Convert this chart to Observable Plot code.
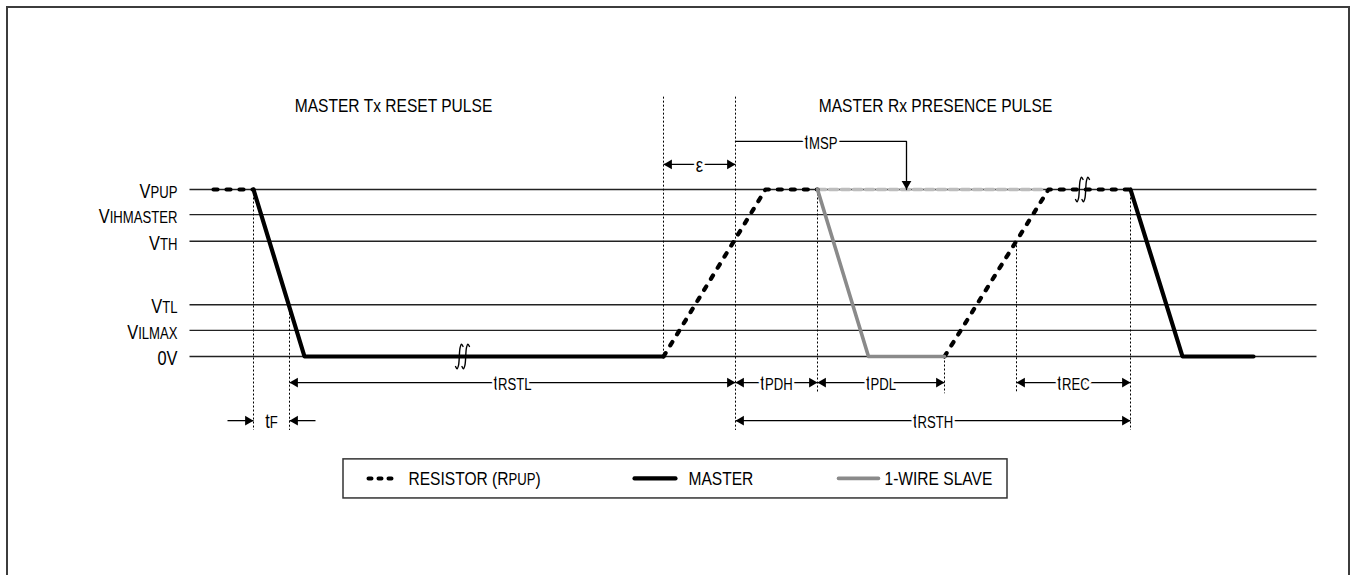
<!DOCTYPE html>
<html>
<head>
<meta charset="utf-8">
<script src="https://cdn.jsdelivr.net/npm/d3@7"></script>
<script src="https://cdn.jsdelivr.net/npm/@observablehq/plot@0.6"></script>
<style>
  html, body { margin: 0; padding: 0; background: #fff; overflow: hidden; }
  #wrap { position: relative; width: 1351px; height: 575px; }
  #frame { position: absolute; left: 6px; top: 6px; width: 1344px; height: 640px;
           border: 2px solid #3c3c3c; box-sizing: border-box; }
  #wrap svg { position: absolute; left: 0; top: 0; }
</style>
</head>
<body>
<div id="wrap"><div id="frame"></div></div>
<script>
// ---------- data (time in arbitrary units, level in arbitrary volts) ----------
const levelNames  = ["V{PUP}", "V{IHMASTER}", "V{TH}", "V{TL}", "V{ILMAX}", "0V"];
const levelVolts  = [5.0, 4.25, 3.45, 1.55, 0.78, 0.0];
const levelSpan   = [189, 1316];
const labelTime   = 177;

const titles      = ["MASTER Tx RESET PULSE", "MASTER Rx PRESENCE PULSE"];
const titleTimes  = [393, 935];
const titleVolt   = 7.5;

const resistorSegs  = [[213, 253], [663, 765, 817], [944, 1048, 1130]];
const resistorVolts = [[5, 5], [0, 5, 5], [0, 5, 5]];
const masterSegs    = [[253, 304, 663], [1130, 1182, 1253]];
const masterVolts   = [[5, 0, 0], [5, 0, 0]];
const slaveTimes    = [817, 868, 944];
const slaveVolts    = [5, 0, 0];
const heldTimes     = [817, 1043];
const heldVolts     = [5, 5];
const breakTimes    = [462, 1082];
const breakVolts    = [0, 5];

const guideTimes = [253, 289, 663, 735, 817, 944, 1016, 1130];
const guideTop   = [5, 1.55, 7.78, 7.78, 5, 0, 3.45, 5];
const guideBot   = [-2.2, -2.2, 0, -2.2, -1.1, -1.1, -1.1, -2.2];

const dimLabels = ["t{RSTL}", "t{PDH}", "t{PDL}", "t{REC}", "t{RSTH}", "ε"];
const dimFrom   = [289, 735, 817, 1016, 735, 663];
const dimTo     = [735, 817, 944, 1130, 1130, 735];
const dimVolt   = [-0.78, -0.78, -0.78, -0.78, -1.92, 5.75];

const fallLabel = "t{F}";
const fallFrom  = 253;
const fallTo    = 289;
const fallVolt  = -1.92;
const fallTail  = 26;

const mspLabel = "t{MSP}";
const mspTimes = [735, 906, 906];
const mspVolts = [6.44, 6.44, 5];

const legendLabels = ["RESISTOR (R{PUP})", "MASTER", "1-WIRE SLAVE"];
const legendSeries = ["resistor", "master", "slave"];

// ---------- layout / styles ----------
const legendBox    = {x1: 343, x2: 1007, y1: -3.08, y2: -4.25};
const legendRow    = -3.65;
const legendSwatch = [[368, 395], [634, 675], [838, 878]];
const legendText   = [408, 688, 884];

// shape of one "∫" break stroke (time offset, level offset)
const breakShapeT = [-5, -3, -1, 1, 3, 5];
const breakShapeV = [-0.30, -0.37, -0.26, 0.26, 0.37, 0.30];
const breakGap = 3.2;

const FONT = "'Liberation Sans', Arial, sans-serif";
const FS = 19, LFS = 20, SUB = 16, NARROW = 0.82;
const style = {
  resistor: {stroke: "#000", strokeWidth: 4.2, strokeDasharray: "4,9", strokeLinecap: "round", strokeLinejoin: "round"},
  master:   {stroke: "#000", strokeWidth: 4.2, strokeLinejoin: "round"},
  slave:    {stroke: "#8a8a8a", strokeWidth: 3.6, strokeLinejoin: "round"},
  held:     {stroke: "#bdbdbd", strokeWidth: 3.6, strokeDasharray: "8,4"}
};
const TIP = 5.6; // centroid-to-tip distance of arrow triangles (r = 3.6)

// ---------- build tables ----------
const levels = levelNames.map((name, i) => ({name, v: levelVolts[i]}));
const seg = (ts, vs, id) => ts.map((t, j) => ({t, v: vs[j], id}));
const resistor = resistorSegs.flatMap((ts, i) => seg(ts, resistorVolts[i], i));
const master   = masterSegs.flatMap((ts, i) => seg(ts, masterVolts[i], i));
const slave    = seg(slaveTimes, slaveVolts, 0);
const held     = seg(heldTimes, heldVolts, 0);
const breakPts = breakTimes.flatMap((bt, i) => [-1, 1].flatMap(side =>
  breakShapeT.map((dt, j) => ({t: bt + side * breakGap + dt * 0.75, v: breakVolts[i] + breakShapeV[j], id: i + "_" + side}))));
const guides   = guideTimes.map((t, i) => ({t, v1: guideTop[i], v2: guideBot[i]}));
const dims     = dimLabels.map((label, i) => ({label, a: dimFrom[i], b: dimTo[i], v: dimVolt[i]}));
const fallArrows = [{a: fallFrom - fallTail, b: fallFrom, v: fallVolt}, {a: fallTo + fallTail, b: fallTo, v: fallVolt}];
const leftHeads  = dims.map(d => ({t: d.a, v: d.v})).concat([{t: fallTo, v: fallVolt}]);
const rightHeads = dims.map(d => ({t: d.b, v: d.v})).concat([{t: fallFrom, v: fallVolt}]);
const msp = mspTimes.map((t, i) => ({t, v: mspVolts[i]}));
const legend = legendLabels.map((label, i) => ({label, s: legendSeries[i], a: legendSwatch[i][0], b: legendSwatch[i][1], tx: legendText[i], v: legendRow}));

const chart = Plot.plot({
  width: 1351, height: 575,
  marginTop: 0, marginRight: 0, marginBottom: 0, marginLeft: 0,
  x: {domain: [0, 1351], range: [0, 1351], axis: null},
  y: {domain: [0, 5], range: [356, 189], axis: null},
  style: {fontFamily: FONT, fontSize: FS + "px", background: "transparent", color: "#000"},
  marks: [
    // level lines
    Plot.link(levels, {x1: () => levelSpan[0], x2: () => levelSpan[1], y1: "v", y2: "v", stroke: "#222", strokeWidth: 1.3}),
    // dotted guides
    Plot.link(guides, {x1: "t", x2: "t", y1: "v1", y2: "v2", stroke: "#000", strokeWidth: 1, strokeDasharray: "2,2"}),
    // signals
    Plot.line(held, {x: "t", y: "v", z: "id", ...style.held}),
    Plot.line(resistor, {x: "t", y: "v", z: "id", ...style.resistor}),
    Plot.line(master, {x: "t", y: "v", z: "id", ...style.master}),
    Plot.line(slave, {x: "t", y: "v", z: "id", ...style.slave}),
    Plot.line(breakPts, {x: "t", y: "v", z: "id", curve: "catmull-rom", stroke: "#000", strokeWidth: 1.4}),
    // dimension lines
    Plot.link(dims, {x1: "a", x2: "b", y1: "v", y2: "v", stroke: "#000", strokeWidth: 1.3}),
    Plot.link(fallArrows, {x1: "a", x2: "b", y1: "v", y2: "v", stroke: "#000", strokeWidth: 1.3}),
    Plot.line(msp, {x: "t", y: "v", stroke: "#000", strokeWidth: 1.3}),
    Plot.dot(leftHeads, {x: "t", y: "v", symbol: "triangle", r: 3.6, rotate: -90, dx: TIP, fill: "#000", stroke: "none"}),
    Plot.dot(rightHeads, {x: "t", y: "v", symbol: "triangle", r: 3.6, rotate: 90, dx: -TIP, fill: "#000", stroke: "none"}),
    Plot.dot([msp[msp.length - 1]], {x: "t", y: "v", symbol: "triangle", r: 3.6, rotate: 180, dy: -TIP, fill: "#000", stroke: "none"}),
    Plot.text(dims, {x: d => (d.a + d.b) / 2, y: "v", text: "label", fontSize: LFS, fill: "#000", stroke: "#fff", strokeWidth: 6, dy: 1}),
    Plot.text([{label: fallLabel, t: (fallFrom + fallTo) / 2, v: fallVolt}], {x: "t", y: "v", text: "label", fontSize: LFS, fill: "#000", dy: 1}),
    Plot.text([{label: mspLabel, t: (mspTimes[0] + mspTimes[1]) / 2, v: mspVolts[0]}], {x: "t", y: "v", text: "label", fontSize: LFS, fill: "#000", stroke: "#fff", strokeWidth: 6, dy: 1}),
    // level labels and titles
    Plot.text(levels, {x: () => labelTime, y: "v", text: "name", textAnchor: "end", fontSize: LFS, fill: "#000", dy: 2}),
    Plot.text(titles, {x: (d, i) => titleTimes[i], y: () => titleVolt, text: d => d, fontSize: FS, fill: "#000"}),
    // legend
    Plot.rect([legendBox], {x1: "x1", x2: "x2", y1: "y1", y2: "y2", fill: "#fff", stroke: "#333", strokeWidth: 1.5}),
    Plot.link(legend.filter(d => d.s === "resistor"), {x1: "a", x2: "b", y1: "v", y2: "v", ...style.resistor, strokeDasharray: "3,7", strokeWidth: 4}),
    Plot.link(legend.filter(d => d.s === "master"), {x1: "a", x2: "b", y1: "v", y2: "v", ...style.master, strokeLinecap: "round"}),
    Plot.link(legend.filter(d => d.s === "slave"), {x1: "a", x2: "b", y1: "v", y2: "v", ...style.slave, strokeLinecap: "round"}),
    Plot.text(legend, {x: "tx", y: "v", text: "label", textAnchor: "start", fontSize: FS, fill: "#000", dy: 1})
  ]
});

document.getElementById("wrap").appendChild(chart);

// render {…} parts of labels as smaller subscript tspans (real text kept), and narrow the type
const NS = "http://www.w3.org/2000/svg";
d3.select(chart).selectAll("text").each(function () {
  const s = this.textContent;
  if (s.includes("{")) {
    const parts = s.split(/(\{[^}]*\})/).filter(p => p);
    this.textContent = "";
    for (const p of parts) {
      const ts = document.createElementNS(NS, "tspan");
      if (p.startsWith("{")) { ts.textContent = p.slice(1, -1); ts.style.fontSize = SUB + "px"; }
      else ts.textContent = p;
      this.appendChild(ts);
    }
  }
  // condensed lettering: scale horizontally about the text's own anchor
  const tr = this.getAttribute("transform");
  if (tr && /translate/.test(tr)) {
    this.setAttribute("transform", tr + ` scale(${NARROW},1)`);
  } else {
    const x = +this.getAttribute("x") || 0, y = +this.getAttribute("y") || 0;
    this.setAttribute("transform", `translate(${x},${y}) scale(${NARROW},1) translate(${-x},${-y})`);
  }
});
</script>
</body>
</html>
